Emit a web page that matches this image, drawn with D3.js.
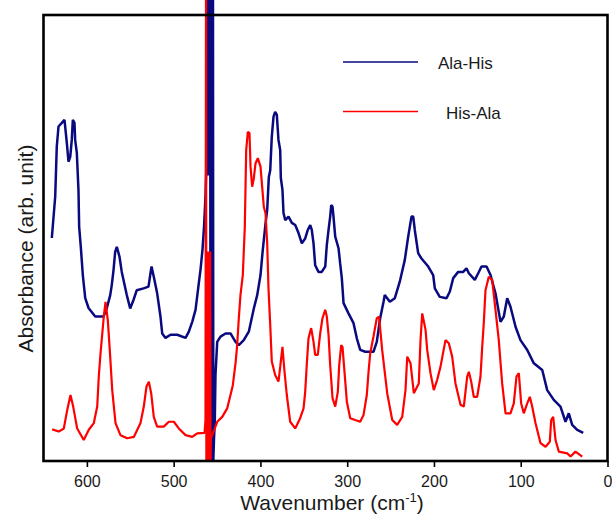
<!DOCTYPE html>
<html>
<head>
<meta charset="utf-8">
<script src="https://cdn.jsdelivr.net/npm/d3@7/dist/d3.min.js"></script>
<style>
  html, body { margin: 0; padding: 0; background: #fff; }
  svg { display: block; font-family: "Liberation Sans", Arial, sans-serif; }
</style>
</head>
<body>
<svg id="chart" width="612" height="517"></svg>
<script>
// Far-IR absorbance spectra of the two dipeptides (arbitrary units)
const alaHisWavenumber = [
  640.4, 636.5, 634.7, 632.7, 628.9, 625.8, 623.1, 621.2, 619.2, 617.4, 616.2, 614.3, 613.5, 611.6, 609.7, 608.9,
  607.0, 604.7, 601.9, 598.1, 590.4, 580.8, 577.0, 573.1, 571.3, 569.3, 567.4, 565.5, 562.4, 559.8, 556.6, 554.0,
  550.1, 546.3, 542.5, 534.7, 529.0, 527.0, 525.5, 522.9, 519.0, 515.2, 513.2, 509.4, 503.6, 495.9, 486.3, 482.5,
  478.6, 474.8, 471.0, 469.1, 466.8, 465.0, 463.3, 462.5,
  461.9, 461.5, 461.1, 460.7, 460.3, 459.9, 459.5, 459.1, 458.7, 458.3, 457.9, 457.5, 457.1, 456.7, 456.3, 455.9,
  455.5, 455.1, 454.7, 454.3, 453.5,
  452.6, 451.8, 449.8, 446.0, 440.2, 434.5, 428.7, 424.9, 419.2, 413.4, 407.6, 403.7, 399.9, 397.3, 394.1, 392.2,
  390.3, 388.7, 386.9, 384.9, 383.0, 381.1, 379.2, 377.2, 376.5, 374.6, 373.4, 371.4, 367.6, 363.8, 359.9, 356.1,
  352.3, 348.4, 345.4, 342.6, 340.8, 338.8, 336.9, 333.1, 329.3, 325.3, 323.5, 321.5, 319.6, 318.4, 316.9, 315.8,
  313.8, 310.0, 308.1, 306.2, 304.2, 298.5, 292.7, 288.9, 285.0, 279.2, 269.7, 265.9, 262.0, 258.1, 256.7, 250.9,
  245.1, 239.4, 233.6, 229.7, 225.9, 223.9, 222.1, 218.2, 214.4, 206.6, 200.9, 199.0, 193.3, 185.5, 181.7, 177.8,
  172.1, 166.3, 162.5, 159.8, 152.9, 149.0, 145.2, 139.4, 134.8, 129.1, 123.3, 119.5, 115.6, 111.8, 106.0, 100.3,
  92.5, 84.9, 75.2, 69.5, 61.9, 54.2, 48.4, 44.6, 40.7, 34.9, 28.0
];
const alaHisAbsorbance = [
  50.0, 59.3, 70.5, 75.0, 75.8, 76.5, 71.3, 67.1, 68.2, 72.0, 76.5, 75.8, 72.0, 69.1, 60.8, 52.5,
  48.0, 41.7, 36.5, 34.3, 32.4, 32.4, 34.3, 37.2, 39.5, 42.8, 46.9, 48.0, 45.8, 42.4, 39.5, 37.2,
  34.2, 36.1, 38.3, 38.7, 39.1, 41.7, 43.6, 41.3, 37.6, 32.4, 28.6, 27.6, 28.3, 28.3, 27.6, 29.0,
  31.2, 33.9, 39.9, 42.8, 47.3, 52.5, 59.3, 64.9,
  110, 64, 110, 64, 110, 64, 110, 64, 110, 64, 110, 0, 110, 0, 110, 0,
  110, 0, 110, 0, 5,
  8.8, 19.3, 26.7, 27.9, 28.6, 28.6, 26.7, 26.0, 27.1, 29.0, 34.2, 37.2, 41.7, 47.3, 53.3, 56.3,
  63.7, 65.2, 72.7, 77.2, 78.3, 77.6, 72.0, 69.7, 63.5, 60.8, 55.6, 54.0, 54.8, 53.4, 52.9, 51.1,
  48.8, 49.9, 51.8, 52.9, 51.8, 48.8, 43.9, 42.4, 42.4, 43.6, 48.4, 51.8, 54.8, 57.4, 57.0, 54.8,
  50.3, 47.7, 44.3, 41.0, 35.4, 33.1, 30.9, 27.5, 24.9, 24.5, 24.5, 26.7, 32.0, 35.7, 37.2, 35.7,
  36.5, 40.2, 45.1, 50.3, 54.8, 54.8, 51.8, 46.6, 45.4, 43.6, 41.7, 38.7, 36.8, 36.5, 38.0, 41.0,
  42.4, 42.4, 43.2, 42.1, 40.6, 42.1, 43.6, 43.6, 41.7, 37.6, 31.2, 32.4, 36.5, 34.6, 30.1, 27.1,
  24.9, 21.9, 20.4, 15.9, 13.7, 12.2, 8.8, 10.7, 8.1, 7.0, 6.3
];

const hisAlaWavenumber = [
  640.0, 632.4, 626.6, 622.7, 618.9, 615.8, 611.2, 603.6, 597.8, 592.0, 588.1, 586.3, 584.3, 580.5, 578.5, 575.9,
  573.6, 570.8, 567.0, 561.3, 553.5, 545.9, 538.2, 534.4, 531.3, 528.6, 525.9, 522.9, 519.0, 511.4, 505.6, 499.8,
  494.1, 486.3, 478.6, 472.9, 464.4, 463.3,
  462.7, 462.3, 461.9, 461.5, 461.1, 460.7, 460.3, 459.9, 459.5, 459.1, 458.7, 458.3, 457.9, 457.5, 457.1,
  452.6, 449.8, 444.0, 438.3, 434.5, 431.8, 428.7, 426.8, 424.9, 423.0, 420.3, 418.0, 416.4, 414.5, 412.6, 411.4,
  409.5, 407.6, 405.7, 403.0, 399.9, 398.0, 396.1, 394.1, 392.2, 390.7, 388.7, 386.9, 383.0, 379.2, 377.2, 374.6,
  372.6, 369.6, 365.7, 359.9, 354.2, 350.3, 348.4, 346.5, 344.6, 341.5, 338.8, 336.9, 333.9, 331.1, 328.5, 325.3,
  323.5, 321.5, 319.6, 316.9, 313.8, 310.8, 309.2, 306.9, 305.4, 303.1, 300.4, 296.5, 290.8, 285.0, 281.2, 277.4,
  275.4, 273.5, 269.7, 265.9, 263.3, 259.7, 253.9, 248.1, 242.4, 236.6, 232.8, 230.8, 227.0, 223.2, 217.5, 215.5,
  213.5, 209.7, 207.8, 204.0, 200.2, 196.3, 192.5, 186.7, 182.9, 179.0, 175.2, 169.4, 165.6, 161.7, 159.8, 157.1,
  154.1, 150.2, 146.4, 144.4, 142.6, 140.6, 136.8, 132.9, 129.1, 125.3, 121.4, 117.5, 111.8, 108.0, 104.9, 102.2,
  99.5, 96.5, 92.5, 89.5, 86.8, 83.0, 77.2, 71.4, 66.5, 64.9, 62.6, 59.9, 56.1, 46.4, 42.6, 36.9, 29.1
];
const hisAlaAbsorbance = [
  7.1, 6.6, 7.3, 11.4, 14.8, 12.2, 7.3, 4.7, 7.0, 8.5, 12.2, 18.9, 24.1, 32.4, 35.7, 31.6,
  24.9, 15.9, 8.5, 5.8, 5.1, 5.4, 8.5, 12.2, 16.7, 17.8, 15.2, 9.9, 7.7, 7.7, 8.8, 8.8,
  7.3, 5.8, 5.4, 6.2, 6.3, 9.2,
  110, 0, 47, 0, 47, 0, 47, 0, 47, 0, 47, 0, 47, 0, 5,
  7.3, 8.8, 9.9, 11.8, 14.8, 17.0, 21.9, 26.0, 32.0, 37.2, 41.7, 52.5, 69.7, 73.8, 73.5, 66.0,
  61.5, 63.4, 66.7, 67.9, 66.0, 61.5, 57.0, 55.5, 48.8, 38.7, 30.5, 22.3, 19.3, 17.8, 21.1, 25.6,
  20.8, 14.8, 8.8, 7.3, 9.6, 11.8, 15.5, 21.9, 27.5, 29.8, 26.7, 23.8, 23.8, 28.6, 32.0, 33.9,
  32.4, 28.3, 21.5, 14.1, 12.2, 15.5, 21.5, 26.0, 25.6, 20.0, 13.3, 9.6, 9.2, 8.8, 10.3, 14.8,
  20.0, 24.1, 27.9, 32.0, 32.4, 24.9, 15.2, 9.2, 8.1, 9.9, 15.9, 23.4, 21.9, 15.2, 17.4, 27.1,
  33.1, 29.4, 24.9, 19.7, 15.9, 18.2, 21.1, 27.1, 26.4, 23.4, 17.4, 12.6, 12.2, 18.9, 20.0, 17.8,
  14.4, 14.4, 18.9, 25.6, 30.9, 38.3, 41.3, 40.6, 33.9, 27.1, 17.4, 10.7, 10.7, 12.9, 18.9, 19.7,
  12.9, 10.7, 12.9, 14.4, 12.2, 8.5, 4.0, 3.2, 4.3, 9.2, 9.9, 4.7, 2.1, 1.7, 1.0, 2.1, 1.0
];

const xTicks = [600, 500, 400, 300, 200, 100, 0];
const seriesNames = ["Ala-His", "His-Ala"];
const seriesColors = ["#0a0a80", "#ff0000"];

const svg = d3.select("#chart");
const plot = { left: 43.5, right: 607.5, top: 15, bottom: 461 };

const x = d3.scaleLinear().domain([650, 0]).range([plot.left, plot.right]);
const y = d3.scaleLinear().domain([0, 100]).range([plot.bottom, plot.top]);

svg.append("defs").append("clipPath").attr("id", "plotClip")
  .append("rect")
  .attr("x", plot.left).attr("y", -60)
  .attr("width", plot.right - plot.left)
  .attr("height", plot.bottom + 60);

const line = d3.line().x(d => x(d[0])).y(d => y(d[1]));

const hisAla = hisAlaWavenumber.map((w, i) => [w, hisAlaAbsorbance[i]]);
const alaHis = alaHisWavenumber.map((w, i) => [w, alaHisAbsorbance[i]]);

const curves = svg.append("g").attr("clip-path", "url(#plotClip)");
curves.append("path").datum(alaHis)
  .attr("d", line).attr("fill", "none")
  .attr("stroke", seriesColors[0]).attr("stroke-width", 2.5)
  .attr("stroke-linejoin", "bevel");
curves.append("path").datum(hisAla)
  .attr("d", line).attr("fill", "none")
  .attr("stroke", seriesColors[1]).attr("stroke-width", 2.2)
  .attr("stroke-linejoin", "bevel");

// Frame
svg.append("rect")
  .attr("x", plot.left).attr("y", plot.top)
  .attr("width", plot.right - plot.left).attr("height", plot.bottom - plot.top)
  .attr("fill", "none").attr("stroke", "#000").attr("stroke-width", 2.6);

// Bottom axis
const xAxis = svg.append("g")
  .attr("transform", `translate(0,${plot.bottom})`)
  .call(d3.axisBottom(x).tickValues(xTicks).tickSize(6).tickFormat(d3.format("d")));
xAxis.select(".domain").remove();
xAxis.selectAll(".tick line").attr("stroke", "#000").attr("stroke-width", 1.6);
xAxis.selectAll(".tick text")
  .attr("y", 26).attr("dy", null)
  .attr("fill", "#1a1a1a")
  .style("font-size", "16px")
  .style("font-family", "'Liberation Sans', Arial, sans-serif");

// Axis titles
const xTitle = svg.append("text")
  .attr("x", 332).attr("y", 510)
  .attr("text-anchor", "middle")
  .attr("fill", "#1a1a1a")
  .style("font-size", "21px");
xTitle.append("tspan").text("Wavenumber (cm");
xTitle.append("tspan").attr("dy", -8).style("font-size", "13px").text("-1");
xTitle.append("tspan").attr("dy", 8).text(")");

svg.append("text")
  .attr("transform", "translate(33,248.5) rotate(-90)")
  .attr("text-anchor", "middle")
  .attr("fill", "#1a1a1a")
  .style("font-size", "21px")
  .text("Absorbance (arb. unit)");

// Legend
const legendRows = [
  { name: seriesNames[0], color: seriesColors[0], ly: 62, tx: 438, ty: 69 },
  { name: seriesNames[1], color: seriesColors[1], ly: 111.5, tx: 446, ty: 118.5 }
];
const legend = svg.append("g");
legendRows.forEach(r => {
  legend.append("line")
    .attr("x1", 343).attr("x2", 418).attr("y1", r.ly).attr("y2", r.ly)
    .attr("stroke", r.color).attr("stroke-width", 1.4);
  legend.append("text")
    .attr("x", r.tx).attr("y", r.ty)
    .attr("fill", "#1a1a1a")
    .style("font-size", "17px")
    .text(r.name);
});
</script>
</body>
</html>
